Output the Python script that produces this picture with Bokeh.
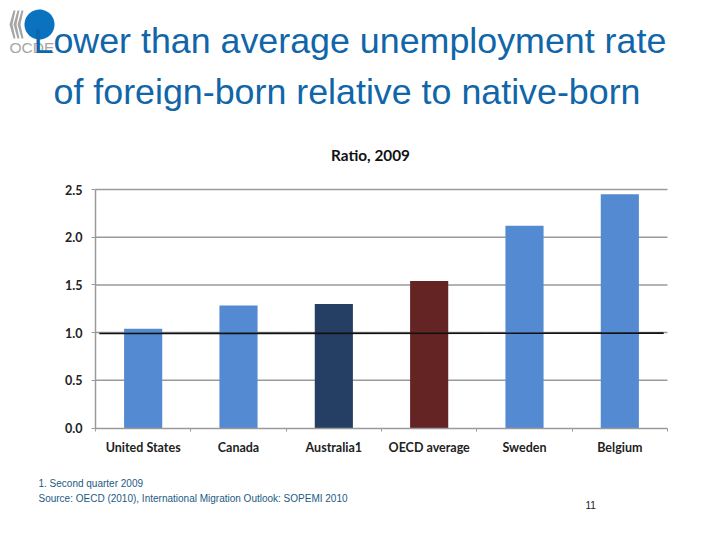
import numpy as np
from bokeh.embed import file_html
from bokeh.resources import INLINE
from bokeh.plotting import figure
from bokeh.models import FixedTicker, Label, LinearAxis, PolyAnnotation, Range1d

categories = ["United States", "Canada", "Australia1", "OECD average", "Sweden", "Belgium"]
ratios = [1.04, 1.285, 1.30, 1.54, 2.12, 2.45]
bar_colors = ["#538ad1", "#538ad1", "#243f63", "#642423", "#538ad1", "#538ad1"]
reference_level = [0.99, 0.995]
y_ticks = [0.0, 0.5, 1.0, 1.5, 2.0, 2.5]

W, H = 704, 524
LEFT, TOP, FW, FH = 95, 189, 572, 238.5
centers = [i + 0.5 for i in range(len(categories))]
boundaries = list(range(len(categories) + 1))

# The frame fills the canvas, so that titles and notes are not clipped; the ranges
# are extended so that the chart's axes occupy the plot area inside it.
ux = FW / 6
uy = FH / 2.5
p = figure(width=W, height=H, output_backend="svg", toolbar_location=None,
           x_range=Range1d(-LEFT / ux, (W - LEFT) / ux),
           y_range=Range1d(-(H - TOP - FH) / uy, (TOP + FH) / uy),
           x_axis_type=None, y_axis_type=None,
           min_border=0, background_fill_color="#ffffff", border_fill_color="#ffffff")
p.outline_line_color = None
p.grid.visible = False

# Gridlines, under the bars
p.segment(x0=[0] * 5, x1=[6] * 5, y0=y_ticks[1:], y1=y_ticks[1:], line_color="#9a9a9a",
          line_width=1.5, level="underlay")
p.vbar(x=centers, top=ratios, bottom=0, width=0.4, fill_color=bar_colors, line_color=None)
p.line(x=[0.04, 5.96], y=reference_level, line_color="#111111", line_width=1.6)

xa = LinearAxis(fixed_location=0, bounds=(0, 6),
                ticker=FixedTicker(ticks=centers, minor_ticks=boundaries))
xa.major_label_overrides = {c: n for c, n in zip(centers, categories)}
xa.major_tick_line_color = None
xa.minor_tick_out = 3
xa.minor_tick_in = 0
xa.minor_tick_line_color = "#9a9a9a"
xa.axis_line_color = "#9a9a9a"
xa.axis_line_width = 1.5
xa.major_label_text_font = "Lato"
xa.major_label_text_font_size = "12.5px"
xa.major_label_text_font_style = "bold"
xa.major_label_text_color = "#222222"
xa.major_label_standoff = 6
p.add_layout(xa, "below")

ya = LinearAxis(fixed_location=0, bounds=(0, 2.5), ticker=FixedTicker(ticks=y_ticks))
ya.major_label_overrides = {v: f"{v:.1f}" for v in y_ticks}
ya.minor_tick_line_color = None
ya.major_tick_out = 4
ya.major_tick_in = 0
ya.major_tick_line_color = "#9a9a9a"
ya.axis_line_color = "#9a9a9a"
ya.axis_line_width = 1.5
ya.major_label_text_font = "Lato"
ya.major_label_text_font_size = "12.5px"
ya.major_label_text_font_style = "bold"
ya.major_label_text_color = "#222222"
ya.major_label_standoff = 9
p.add_layout(ya, "left")


def text(x, y, s, font, size, color, style="normal", align="left"):
    # y is the wanted baseline; the label renders about 0.41 em below the value it is given
    p.add_layout(Label(x=x, y=H - (y - 0.41 * size), x_units="screen", y_units="screen", text=s,
                       text_font=font, text_font_size=f"{size}px", text_color=color,
                       text_font_style=style, text_align=align, text_baseline="alphabetic"))


def poly(xs, ys, color):
    p.add_layout(PolyAnnotation(xs=[float(v) for v in xs], ys=[float(H - v) for v in ys],
                                xs_units="screen", ys_units="screen",
                                fill_color=color, fill_alpha=1, line_color=None))


BLUE = "#1066a8"

# logo, below the title
for dx in (0, 4, 8):
    poly([9 + dx, 13 + dx, 15 + dx, 12 + dx, 15 + dx, 13 + dx],
         [24, 10, 10, 24, 38, 38], "#a6a6a6")
text(9, 53, "OCDE", "Liberation Sans", 15.5, "#a6a6a6")
t = np.linspace(0, 2 * np.pi, 60)
poly(39 + 15 * np.cos(t), 24 + 15 * np.sin(t), "#0a72be")

text(33, 55, "Lower than average unemployment rate", "Liberation Sans", 35.8, BLUE)
text(53, 106, "of foreign-born relative to native-born", "Liberation Sans", 35.8, BLUE)
text(370, 161, "Ratio, 2009", "Lato", 15.3, "#111111", "bold", "center")
text(38, 487.5, "1. Second quarter 2009", "Liberation Sans", 10, "#1b5a85")
text(38, 502.5, "Source: OECD  (2010), International Migration Outlook: SOPEMI 2010", "Liberation Sans", 10, "#1b5a85")
text(585, 509, "11", "Liberation Sans", 10, "#222222")

open("out.html", "w").write(file_html(p, INLINE))
